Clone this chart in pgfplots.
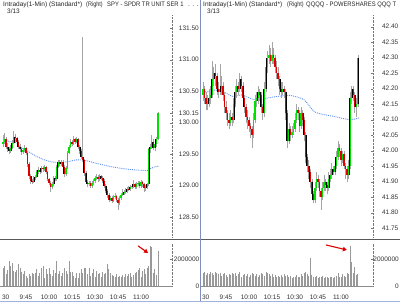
\documentclass[border=0pt]{standalone}
\usepackage{fontspec}
\setmainfont{Liberation Sans}
\usepackage{graphicx}
\usepackage{pgfplots}
\pgfplotsset{compat=1.18}
\usepackage{pgfplotstable}
\usetikzlibrary{arrows.meta}

\pgfplotstableread{
t o h l c v
0 129.66 129.80 129.62 129.70 1370
1 129.70 129.84 129.66 129.74 1500
2 129.74 129.77 129.58 129.62 900
3 129.62 129.67 129.54 129.58 1200
4 129.58 129.62 129.50 129.55 1870
5 129.55 129.64 129.52 129.60 1500
6 129.60 129.72 129.58 129.68 1700
7 129.68 129.87 129.66 129.78 1130
8 129.78 129.82 129.70 129.75 1050
9 129.75 129.78 129.66 129.70 1200
10 129.70 129.72 129.58 129.62 1620
11 129.62 129.66 129.54 129.58 1370
12 129.58 129.61 129.49 129.53 1050
13 129.53 129.60 129.50 129.56 900
14 129.56 129.64 129.54 129.60 1130
15 129.60 129.62 129.48 129.52 750
16 129.52 129.54 129.30 129.35 625
17 129.35 129.38 129.10 129.15 900
18 129.15 129.18 129.03 129.07 750
19 129.07 129.10 129.02 129.06 1000
20 129.06 129.15 129.04 129.12 870
21 129.12 129.17 129.09 129.14 1000
22 129.14 129.25 129.12 129.22 1300
23 129.22 129.29 129.19 129.25 750
24 129.25 129.28 129.18 129.22 1000
25 129.22 129.31 129.20 129.28 1370
26 129.28 129.31 129.22 129.26 1500
27 129.26 129.33 129.23 129.30 625
28 129.30 129.32 129.19 129.22 1300
29 129.22 129.24 129.07 129.10 870
30 129.10 129.12 129.01 129.05 1370
31 129.05 129.07 128.90 128.98 900
32 128.98 129.06 128.95 129.02 750
33 129.02 129.16 129.00 129.13 1200
34 129.13 129.16 129.07 129.10 1000
35 129.10 129.33 129.08 129.30 1870
36 129.30 129.41 129.28 129.37 900
37 129.37 129.40 129.31 129.35 1100
38 129.35 129.41 129.32 129.38 750
39 129.38 129.40 129.27 129.30 1000
40 129.30 129.33 129.14 129.18 1370
41 129.18 129.31 129.15 129.28 1150
42 129.28 129.55 129.26 129.52 900
43 129.52 129.65 129.50 129.62 1870
44 129.62 129.74 129.60 129.70 1050
45 129.70 129.73 129.63 129.66 1050
46 129.66 129.79 129.64 129.74 750
47 129.74 129.76 129.66 129.70 625
48 129.70 129.78 129.68 129.74 1000
49 129.74 129.76 129.58 129.62 625
50 129.62 129.65 129.51 129.55 1000
51 129.55 129.58 129.42 129.45 1300
52 129.45 131.36 129.37 129.40 1000
53 129.40 129.42 129.16 129.20 1370
54 129.20 129.23 129.02 129.06 1370
55 129.06 129.09 128.98 129.02 900
56 129.02 129.08 128.99 129.05 1370
57 129.05 129.07 128.96 129.00 750
58 129.00 129.07 128.97 129.04 1000
59 129.04 129.11 129.01 129.08 1300
60 129.08 129.15 129.05 129.12 700
61 129.12 129.18 129.09 129.14 1100
62 129.14 129.17 129.06 129.10 900
63 129.10 129.18 129.08 129.15 1000
64 129.15 129.17 129.09 129.13 700
65 129.13 129.15 129.04 129.08 1050
66 129.08 129.10 128.96 129.00 900
67 129.00 129.02 128.88 128.92 1000
68 128.92 128.95 128.81 128.85 1620
69 128.85 128.88 128.74 128.78 1300
70 128.78 128.84 128.75 128.80 1000
71 128.80 128.83 128.72 128.76 800
72 128.76 128.86 128.74 128.82 750
73 128.82 128.88 128.79 128.84 650
74 128.84 128.86 128.74 128.78 900
75 128.78 128.80 128.61 128.72 700
76 128.72 128.84 128.70 128.80 750
77 128.80 128.88 128.77 128.85 650
78 128.85 128.95 128.83 128.88 800
79 128.88 128.93 128.85 128.90 650
80 128.90 128.96 128.87 128.92 900
81 128.92 128.98 128.89 128.95 750
82 128.95 128.99 128.91 128.94 900
83 128.94 129.01 128.92 128.98 1000
84 128.98 129.03 128.95 129.00 650
85 129.00 129.09 128.97 129.02 800
86 129.02 129.05 128.94 128.98 1000
87 128.98 129.06 128.95 129.03 1050
88 129.03 129.08 129.00 129.05 1200
89 129.05 129.07 128.96 129.00 1370
90 129.00 129.09 128.97 129.06 700
91 129.06 129.08 128.98 129.02 1100
92 129.02 129.04 128.90 128.96 1250
93 128.96 129.01 128.92 128.98 900
94 128.98 129.05 128.95 129.02 1370
95 129.02 129.60 129.00 129.58 1500
96 129.58 129.66 129.52 129.62 3000
97 129.62 129.80 129.58 129.70 2900
98 129.70 129.74 129.56 129.60 1000
99 129.60 129.70 129.55 129.66 1300
100 129.66 129.78 129.62 129.74 800
101 129.74 130.17 129.72 130.15 2620
}\spy

\pgfplotstableread{
t o h l c v
0 42.18 42.22 42.16 42.20 1000
1 42.20 42.21 42.15 42.17 1070
2 42.17 42.19 42.13 42.15 800
3 42.15 42.18 42.13 42.16 1000
4 42.16 42.20 42.14 42.17 870
5 42.17 42.21 42.15 42.18 1070
6 42.18 42.29 42.17 42.23 1000
7 42.23 42.27 42.21 42.25 800
8 42.25 42.28 42.21 42.24 1070
9 42.24 42.25 42.18 42.20 950
10 42.20 42.22 42.17 42.19 870
11 42.19 42.28 42.18 42.20 1000
12 42.20 42.24 42.18 42.21 750
13 42.21 42.22 42.16 42.18 870
14 42.18 42.19 42.12 42.14 1000
15 42.14 42.16 42.10 42.12 800
16 42.12 42.13 42.08 42.10 700
17 42.10 42.12 42.07 42.09 870
18 42.09 42.13 42.08 42.11 800
19 42.11 42.12 42.08 42.10 1000
20 42.10 42.17 42.09 42.15 870
21 42.15 42.21 42.14 42.19 1000
22 42.19 42.23 42.17 42.21 750
23 42.21 42.22 42.18 42.20 870
24 42.20 42.25 42.19 42.23 1070
25 42.23 42.24 42.19 42.21 700
26 42.21 42.22 42.15 42.17 800
27 42.17 42.18 42.12 42.14 870
28 42.14 42.15 42.09 42.11 750
29 42.11 42.13 42.07 42.10 870
30 42.10 42.11 42.06 42.08 700
31 42.08 42.09 42.04 42.07 800
32 42.07 42.08 42.01 42.05 1000
33 42.05 42.12 42.04 42.10 870
34 42.10 42.18 42.09 42.16 750
35 42.16 42.19 42.14 42.17 870
36 42.17 42.21 42.15 42.19 700
37 42.19 42.20 42.16 42.18 800
38 42.18 42.19 42.12 42.14 1000
39 42.14 42.15 42.10 42.12 870
40 42.12 42.22 42.11 42.20 750
41 42.20 42.29 42.19 42.27 1070
42 42.27 42.32 42.25 42.30 1000
43 42.30 42.34 42.28 42.31 870
44 42.31 42.33 42.27 42.29 750
45 42.29 42.35 42.28 42.31 870
46 42.31 42.33 42.28 42.30 700
47 42.30 42.31 42.25 42.27 800
48 42.27 42.29 42.23 42.25 650
49 42.25 42.27 42.21 42.23 750
50 42.23 42.24 42.18 42.20 700
51 42.20 42.22 42.17 42.19 800
52 42.19 42.22 42.18 42.20 650
53 42.20 42.21 42.17 42.19 870
54 42.19 42.20 42.10 42.12 750
55 42.12 42.13 42.01 42.03 800
56 42.03 42.09 42.02 42.07 650
57 42.07 42.08 42.03 42.05 750
58 42.05 42.08 42.04 42.06 600
59 42.06 42.09 42.05 42.07 700
60 42.07 42.12 42.06 42.10 650
61 42.10 42.15 42.09 42.13 800
62 42.13 42.14 42.10 42.12 700
63 42.12 42.13 42.06 42.08 650
64 42.08 42.14 42.07 42.12 870
65 42.12 42.13 42.08 42.10 750
66 42.10 42.11 42.03 42.05 1000
67 42.05 42.06 41.96 41.98 1070
68 41.98 41.99 41.93 41.95 870
69 41.95 41.97 41.91 41.93 750
70 41.93 41.94 41.88 41.90 2080
71 41.90 41.91 41.84 41.86 800
72 41.86 41.87 41.83 41.84 700
73 41.84 41.90 41.83 41.88 650
74 41.88 41.93 41.87 41.91 750
75 41.91 41.92 41.88 41.90 600
76 41.90 41.91 41.85 41.87 700
77 41.87 41.88 41.81 41.85 650
78 41.85 41.90 41.84 41.88 750
79 41.88 41.92 41.87 41.90 600
80 41.90 41.91 41.87 41.89 650
81 41.89 41.90 41.86 41.88 700
82 41.88 41.93 41.87 41.91 600
83 41.91 41.94 41.90 41.92 650
84 41.92 41.96 41.91 41.94 700
85 41.94 41.95 41.92 41.93 600
86 41.93 41.97 41.92 41.95 650
87 41.95 42.00 41.94 41.98 750
88 41.98 42.03 41.97 42.01 1000
89 42.01 42.02 41.98 42.00 700
90 42.00 42.01 41.95 41.97 650
91 41.97 42.00 41.96 41.99 870
92 41.99 42.00 41.94 41.95 750
93 41.95 41.96 41.91 41.94 650
94 41.94 41.95 41.90 41.92 1000
95 41.92 41.97 41.91 41.95 870
96 41.95 42.19 41.94 42.17 3000
97 42.17 42.21 42.15 42.20 1820
98 42.20 42.21 42.16 42.18 1000
99 42.18 42.19 42.12 42.14 1450
100 42.14 42.17 42.11 42.15 800
101 42.15 42.31 42.14 42.30 870
}\qqq

\definecolor{wick}{RGB}{165,165,165}
\definecolor{dnr}{RGB}{225,0,0}
\definecolor{ma}{RGB}{90,140,240}
\definecolor{axgray}{RGB}{120,120,120}

\pgfplotsset{
  panel/.style={
    anchor=south west, scale only axis, clip=false,
    xmin=-1.96,
    tick label style={font=\fontsize{6.5}{7}\selectfont, text=black!80, inner sep=0pt},
    axis y line*=right,
    y axis line style={densely dotted, axgray, -},
    ytick style={axgray}, major tick length=2pt, tick align=inside,
    colormap={rg}{rgb255=(225,0,0) rgb255=(0,225,0)},
    point meta min=0, point meta max=1,
  },
  pricepanel/.style={panel, axis x line=none, height=222pt},
  volpanel/.style={panel, height=43pt, ymin=0, ymax=3221,
    axis x line*=bottom, x axis line style={black!45, -},
    xtick={0,15,30,45,60,75,90},
    xticklabels={\hphantom{9:}30,9:45,10:00,10:15,10:30,10:45,11:00},
    xtick style={draw=none},
    xticklabel style={anchor=north, yshift=-9pt},
    ytick={0,2000}, yticklabels={0,2000000}},
  wicks/.style={quiver={u=0, v=\thisrow{h}-\thisrow{l},
    every arrow/.append style={-, draw=wick, line width=0.6pt}}},
  bodyedge/.style={quiver={u=0, v=\thisrow{c}-\thisrow{o},
    every arrow/.append style={-, draw=black, line width=1.8pt}}},
  body/.style={point meta=explicit,
    quiver={u=0, v=\thisrow{c}-\thisrow{o}, colored,
    every arrow/.append style={-, line width=1.25pt}}},
}

\begin{document}
\begin{tikzpicture}
\useasboundingbox (0pt,0pt) rectangle (400pt,302pt);

% ---------- left: SPY price ----------
\begin{axis}[pricepanel, at={(0pt,65pt)}, width=172pt,
  xmax=110.2, ymin=128.186, ymax=131.709,
  yticklabel style={anchor=east, xshift=27pt},
  ytick={128.5,129,129.5,130,130.15,130.5,131,131.5},
  yticklabels={128.50,129.00,129.50,130.00,130.15,130.50,131.00,131.50}]
\addplot[ma, densely dotted, line width=0.9pt, smooth] coordinates {
(2,129.72) (4,129.70) (9,129.68) (11,129.62) (18,129.52) (24,129.44) (31,129.38)
(35,129.37) (42,129.38) (48,129.41) (54,129.40) (60,129.36) (71,129.30) (82,129.26)
(94,129.24) (96,129.27) (99,129.30) (102,129.31)};
\addplot[wicks] table[x=t, y=l] {\spy};
\addplot[bodyedge] table[x=t, y=o] {\spy};
\addplot[body] table[x=t, y=o, meta expr={\thisrow{c}>=\thisrow{o}}] {\spy};
\end{axis}

% ---------- left: SPY volume ----------
\begin{axis}[volpanel, at={(0pt,16pt)}, width=172pt, xmax=110.2,
  yticklabel style={anchor=east, xshift=27.5pt}]
\addplot[ycomb, draw=black!40, line width=0.7pt] table[x=t, y=v] {\spy};
\draw[dnr, line width=1.1pt, -{Triangle[length=4pt,width=4.5pt]}]
  (axis cs:88.1,3000) -- (axis cs:94.6,2475);
\end{axis}

% ---------- right: QQQQ price ----------
\begin{axis}[pricepanel, at={(200pt,65pt)}, width=173pt,
  xmax=110.9, ymin=41.7216, ymax=42.4377,
  yticklabel style={anchor=east, xshift=25.5pt},
  ytick={41.75,41.8,41.85,41.9,41.95,42,42.05,42.1,42.15,42.2,42.25,42.3,42.35,42.4},
  yticklabels={41.75,41.80,41.85,41.90,41.95,42.00,42.05,42.10,42.15,42.20,42.25,42.30,42.35,42.40}]
\addplot[ma, densely dotted, line width=0.9pt, smooth] coordinates {
(0,42.19) (3,42.19) (8,42.196) (13,42.19) (20,42.174) (25,42.18) (34,42.164)
(42,42.17) (50,42.176) (57,42.178) (66,42.164) (73,42.125) (86,42.11) (96,42.10) (102,42.106)};
\addplot[wicks] table[x=t, y=l] {\qqq};
\addplot[bodyedge] table[x=t, y=o] {\qqq};
\addplot[body] table[x=t, y=o, meta expr={\thisrow{c}>=\thisrow{o}}] {\qqq};
\end{axis}

% ---------- right: QQQQ volume ----------
\begin{axis}[volpanel, at={(200pt,16pt)}, width=173pt, xmax=110.9,
  yticklabel style={anchor=east, xshift=26pt}]
\addplot[ycomb, draw=black!40, line width=0.7pt] table[x=t, y=v] {\qqq};
\draw[dnr, line width=1.1pt, -{Triangle[length=4pt,width=4.5pt]}]
  (axis cs:80.2,3075) -- (axis cs:93.9,2700);
\end{axis}

% ---------- frame, separators, titles ----------
\draw[black!65, line width=1pt] (0pt,62.7pt) -- (400pt,62.7pt);
\draw[color={rgb,255:red,130;green,140;blue,190}, line width=1.3pt] (200.6pt,0pt) -- (200.6pt,302pt);
\draw[color={rgb,255:red,160;green,180;blue,220}, line width=1pt] (0pt,0.5pt) -- (400pt,0.5pt);

\begin{scope}[every node/.style={anchor=base west, inner sep=0pt,
    font=\fontsize{6.5}{7}\selectfont, text=black!85}]
\node at (3pt,295.5pt) {Intraday(1-Min) (Standard*)};
\node at (86pt,295.5pt) {\scalebox{0.85}[1]{(Right)}};
\node at (107pt,295.5pt) {\scalebox{0.9}[1]{SPY - SPDR TR UNIT SER 1}};
\node at (188pt,295.5pt) {. . .};
\node at (7pt,288.7pt) {3/13};
\node at (203pt,295.5pt) {Intraday(1-Min) (Standard*)};
\node at (287pt,295.5pt) {\scalebox{0.85}[1]{(Right)}};
\node at (306pt,295.5pt) {\scalebox{0.9}[1]{QQQQ - POWERSHARES QQQ T}};
\node at (207pt,288.7pt) {3/13};
\end{scope}
\end{tikzpicture}
\end{document}
